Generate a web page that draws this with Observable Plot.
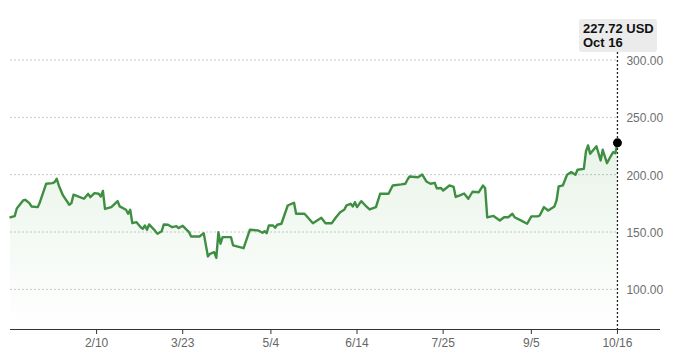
<!DOCTYPE html>
<html><head><meta charset="utf-8">
<script src="https://cdn.jsdelivr.net/npm/d3@7"></script>
<script src="https://cdn.jsdelivr.net/npm/@observablehq/plot@0.6"></script>
<style>html,body{margin:0;padding:0;background:#fff}</style>
</head><body><div id="chart"></div>
<script>
const dates = [
"2024-12-31","2025-01-02","2025-01-03","2025-01-06","2025-01-07","2025-01-09","2025-01-10","2025-01-13","2025-01-14","2025-01-17",
"2025-01-20","2025-01-21","2025-01-22","2025-01-23","2025-01-25","2025-01-28","2025-01-29","2025-01-30","2025-02-02","2025-02-04",
"2025-02-06","2025-02-07","2025-02-09","2025-02-11","2025-02-12","2025-02-13","2025-02-14","2025-02-17","2025-02-20","2025-02-21",
"2025-02-24","2025-02-25","2025-02-26","2025-02-27","2025-03-01","2025-03-03","2025-03-04","2025-03-05","2025-03-06","2025-03-07",
"2025-03-09","2025-03-11","2025-03-13","2025-03-14","2025-03-16","2025-03-18","2025-03-20","2025-03-21","2025-03-23","2025-03-26",
"2025-03-27","2025-03-31","2025-04-02","2025-04-04","2025-04-05","2025-04-07","2025-04-08","2025-04-09","2025-04-10","2025-04-11",
"2025-04-15","2025-04-16","2025-04-21","2025-04-24","2025-04-28","2025-04-30","2025-05-01","2025-05-02","2025-05-03","2025-05-05",
"2025-05-06","2025-05-07","2025-05-09","2025-05-12","2025-05-15","2025-05-16","2025-05-20","2025-05-24","2025-05-28","2025-05-30",
"2025-06-02","2025-06-04","2025-06-06","2025-06-08","2025-06-09","2025-06-11","2025-06-12","2025-06-13","2025-06-14","2025-06-16",
"2025-06-18","2025-06-20","2025-06-23","2025-06-25","2025-06-29","2025-07-01","2025-07-05","2025-07-07","2025-07-08","2025-07-09",
"2025-07-13","2025-07-14","2025-07-15","2025-07-17","2025-07-19","2025-07-21","2025-07-22","2025-07-24","2025-07-25","2025-07-28",
"2025-07-30","2025-07-31","2025-08-02","2025-08-04","2025-08-06","2025-08-08","2025-08-11","2025-08-13","2025-08-14","2025-08-15",
"2025-08-18","2025-08-21","2025-08-23","2025-08-25","2025-08-27","2025-08-28","2025-08-31","2025-09-03","2025-09-05","2025-09-08",
"2025-09-09","2025-09-11","2025-09-13","2025-09-16","2025-09-17","2025-09-18","2025-09-20","2025-09-22","2025-09-24","2025-09-26",
"2025-09-27","2025-09-30","2025-10-01","2025-10-02","2025-10-03","2025-10-05","2025-10-06","2025-10-08","2025-10-09","2025-10-11",
"2025-10-13","2025-10-14","2025-10-15","2025-10-16"
];
const prices = [
162.9,163.8,170.5,177.5,178.1,175.2,172.3,171.7,176.0,192.1,
192.6,193.5,196.4,190.6,181.9,173.8,175.2,182.5,180.4,179.0,
183.3,180.4,183.9,183.4,181.0,185.8,170.1,171.7,176.9,172.3,
169.4,165.9,169.4,157.7,158.6,154.2,152.8,155.7,152.0,156.6,
152.8,148.5,150.7,156.6,156.3,154.2,155.1,153.4,155.4,149.9,
146.1,146.1,149.0,128.7,131.0,132.4,127.5,149.9,139.8,145.5,
145.5,138.3,135.9,152.0,151.3,149.3,150.7,149.0,155.7,155.7,
153.7,156.3,157.2,173.1,175.5,165.9,165.9,157.7,162.4,157.7,
157.7,162.9,167.3,169.7,173.2,174.6,172.3,176.0,171.7,176.9,
173.1,169.7,171.7,183.3,183.3,190.6,191.5,192.1,195.6,198.4,
197.8,198.9,200.2,194.1,192.1,192.9,188.0,188.4,186.2,190.6,
189.3,180.6,181.9,183.6,179.0,185.1,184.7,190.6,188.2,162.7,
164.0,160.1,162.9,162.9,165.9,162.9,160.1,157.2,163.6,163.6,
164.4,171.7,168.8,172.3,177.5,189.7,190.6,199.9,202.2,199.9,
204.3,205.1,220.2,225.5,218.2,222.6,224.8,212.4,221.7,210.0,
216.7,219.6,218.7,227.72
];
const xTicks = ["2025-02-10","2025-03-23","2025-05-04","2025-06-14","2025-07-25","2025-09-05","2025-10-16"];
const yTicks = [100, 150, 200, 250, 300];
const xDomain = ["2024-12-31T00:00:00Z", "2025-11-05T12:00:00Z"];
const yDomain = [65, 310];
const tipValue = "227.72 USD";
const tipDate = "Oct 16";

const parse = s => new Date(s.length === 10 ? s + "T00:00:00Z" : s);
const data = dates.map((d, i) => ({date: parse(d), price: prices[i]}));
const last = data[data.length - 1];
const xStart = parse(xDomain[0]);
const font = "'Liberation Sans', Arial, Helvetica, sans-serif";

const plot = Plot.plot({
  width: 680, height: 360,
  marginLeft: 10, marginRight: 20, marginTop: 48, marginBottom: 31,
  style: {fontFamily: font, fontSize: "12px", background: "#fff", color: "#333"},
  x: {type: "utc", domain: xDomain.map(parse), axis: null},
  y: {domain: yDomain, axis: null},
  marks: [
    Plot.ruleY(yTicks, {y: d => d, x1: () => xStart, x2: () => last.date, stroke: "#c8c8c8", strokeDasharray: "2,2", strokeWidth: 1}),
    Plot.areaY(data, {x: "date", y1: yDomain[0], y2: "price", fill: "url(#areaGrad)"}),
    Plot.lineY(data, {x: "date", y: "price", stroke: "#3f8f42", strokeWidth: 2.4, strokeLinejoin: "round"}),
    Plot.ruleY([yDomain[0]], {stroke: "#333", strokeWidth: 1}),
    Plot.axisX(xTicks.map(parse), {tickSize: 5, tickPadding: 4, stroke: "#333", fill: "#666", fontSize: 12,
      tickFormat: d => `${d.getUTCMonth() + 1}/${d.getUTCDate()}`, label: null}),
    Plot.ruleX([last], {x: "date", stroke: "#222", strokeDasharray: "2,2", strokeWidth: 1.3}),
    Plot.text(yTicks, {x: () => last.date, y: d => d, text: d => d.toFixed(2), dx: 9, textAnchor: "start", fill: "#6e6e6e", fontSize: 12, dy: 1}),
    Plot.dot([last], {x: "date", y: "price", r: 4.5, fill: "#000"})
  ]
});

const svg = d3.select(plot);
const defs = svg.insert("defs", ":first-child");
const grad = defs.append("linearGradient").attr("id", "areaGrad")
  .attr("x1", 0).attr("y1", 0).attr("x2", 0).attr("y2", 1);
grad.append("stop").attr("offset", "0%").attr("stop-color", "#5fae5c").attr("stop-opacity", 0.14);
grad.append("stop").attr("offset", "100%").attr("stop-color", "#5fae5c").attr("stop-opacity", 0.0);

const cx = plot.scale("x").apply(last.date);
const tip = svg.append("g").attr("font-family", font).attr("font-size", 13).attr("fill", "#111").attr("text-anchor", "start");
tip.append("rect").attr("x", cx - 38).attr("y", 19).attr("width", 78).attr("height", 33).attr("rx", 3).attr("fill", "#ebebeb");
tip.append("text").attr("x", cx - 34).attr("y", 33).attr("text-anchor", "start").attr("font-weight", 600).text(tipValue);
tip.append("text").attr("x", cx - 34).attr("y", 47).attr("text-anchor", "start").attr("font-weight", 600).text(tipDate);

document.getElementById("chart").appendChild(plot);
</script>
</body></html>
